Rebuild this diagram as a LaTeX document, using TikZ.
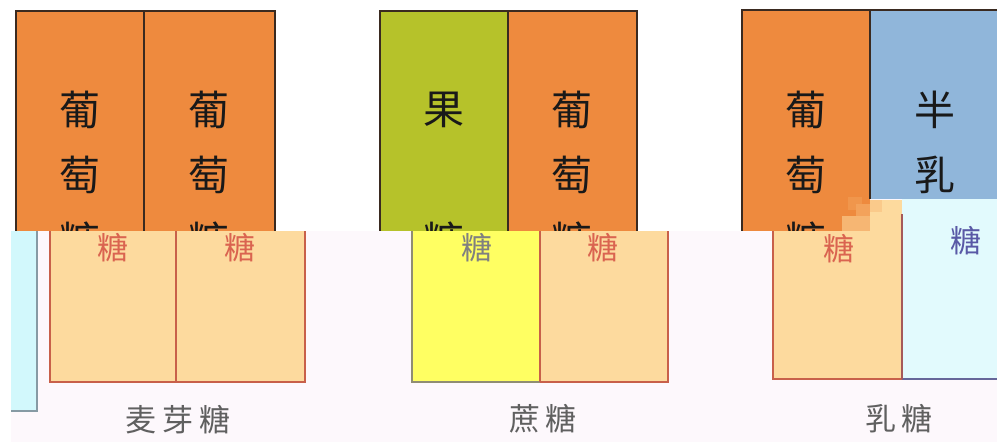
\documentclass[tikz,border=0pt]{standalone}
\usepackage{fontspec}
\newfontfamily\cjk{Noto Sans CJK SC}
\newfontfamily\cjklab[LetterSpace=18]{Noto Sans CJK SC}
\definecolor{topor}{HTML}{EE8A3E}
\definecolor{topgr}{HTML}{B6C22A}
\definecolor{topbl}{HTML}{90B6DA}
\definecolor{topln}{HTML}{3A2A20}
\definecolor{paleor}{HTML}{FDDA9E}
\definecolor{redln}{HTML}{C8604A}
\definecolor{redtx}{HTML}{DA6450}
\definecolor{yel}{HTML}{FFFF62}
\definecolor{cyn}{HTML}{D2F8FC}
\definecolor{cyn2}{HTML}{E2FAFD}
\definecolor{botbg}{HTML}{FDF8FC}
\definecolor{labgr}{HTML}{606060}
\begin{document}
\begin{tikzpicture}[x=1pt,y=-1pt,
  topline/.style={draw=topln,line width=1.6pt},
  botline/.style={draw=redln,line width=1.1pt},
  topchar/.style={font=\cjk\fontsize{41}{41}\selectfont,text=black!90,inner sep=0pt},
  botchar/.style={font=\cjk\fontsize{31}{31}\selectfont,inner sep=0pt},
  labchar/.style={font=\cjklab\fontsize{31}{31}\selectfont,text=labgr,inner sep=0pt}]
\useasboundingbox (0,0) rectangle (997,442);
\fill[white] (0,0) rectangle (997,442);
% ---------- top layer ----------
\fill[topor] (16,11) rectangle (275,240);
\fill[topor] (380,11) rectangle (637,240);
\fill[topgr] (380,11) rectangle (508,240);
\fill[topor] (742,10) rectangle (870,240);
\fill[topbl] (870,10) rectangle (997,240);
\draw[topline] (16,240) -- (16,11) -- (275,11) -- (275,240);
\draw[topline] (144,11) -- (144,240);
\draw[topline] (380,240) -- (380,11) -- (637,11) -- (637,240);
\draw[topline] (508,11) -- (508,240);
\draw[topline] (742,240) -- (742,10) -- (997,10);
\draw[topline] (870,10) -- (870,240);
\node[topchar] (a1) at (80,110) {葡};
\node[topchar] (a2) at (80,175) {萄};
\node[topchar] (a3) at (80,241) {糖};
\node[topchar] (b1) at (209,110) {葡};
\node[topchar] (b2) at (209,175) {萄};
\node[topchar] (b3) at (209,241) {糖};
\node[topchar] (c1) at (444,110) {果};
\node[topchar] (c3) at (444,241) {糖};
\node[topchar] (d1) at (572,110) {葡};
\node[topchar] (d2) at (572,175) {萄};
\node[topchar] (d3) at (572,241) {糖};
\node[topchar] (e1) at (806,110) {葡};
\node[topchar] (e2) at (806,175) {萄};
\node[topchar] (e3) at (806,241) {糖};
\node[topchar] (f1) at (935,110) {半};
\node[topchar] (f2) at (935,175) {乳};
% ---------- bottom layer ----------
\fill[botbg] (11,231) -- (842,231) -- (842,199) -- (997,199) -- (997,442) -- (11,442) -- cycle;
% mixed blocks at the seam
\fill[topor] (842,199) rectangle (870,232);
\fill[topor!85!paleor] (848,197) rectangle (862,210);
\fill[topor!70!paleor] (856,204) rectangle (870,216);
\fill[topor!45!paleor] (842,216) rectangle (870,232);
\fill[paleor!80!topor] (870,200) rectangle (882,212);
\fill[paleor] (870,212) rectangle (902,232);
\fill[paleor] (882,200) rectangle (902,212);
% cyan strip
\fill[cyn] (11,231) rectangle (37,411);
\draw[draw=gray!80!cyan,line width=1.1pt] (37,231) -- (37,411) -- (11,411);
% group 1
\fill[paleor] (50,231) rectangle (305,382);
\draw[botline] (50,231) -- (50,382) -- (305,382) -- (305,231);
\draw[botline] (176,231) -- (176,382);
% group 2
\fill[yel] (412,231) rectangle (540,382);
\fill[paleor] (540,231) rectangle (668,382);
\draw[draw=gray!80!olive,line width=1.1pt] (412,231) -- (412,382) -- (540,382);
\draw[botline] (540,382) -- (668,382) -- (668,231);
\draw[botline] (540,231) -- (540,382);
% group 3
\fill[paleor] (773,231) rectangle (902,379);
\fill[cyn2] (902,199) rectangle (997,379);
\draw[botline] (773,231) -- (773,379) -- (902,379);
\draw[draw=gray!80!blue,line width=1.1pt] (902,379) -- (997,379);
\draw[draw=gray!70!red,line width=1.1pt] (902,214) -- (902,379);
\begin{scope}
\clip (11,231) -- (842,231) -- (842,199) -- (997,199) -- (997,442) -- (11,442) -- cycle;
\node[botchar,text=redtx] (g1) at (113,248) {糖};
\node[botchar,text=redtx] (g2) at (240,248) {糖};
\node[botchar,text=gray] (h1) at (477,248) {糖};
\node[botchar,text=redtx] (h2) at (603,248) {糖};
\node[botchar,text=redtx] (i1) at (839,249) {糖};
\node[botchar,text=gray!70!blue] (i2) at (966,241) {糖};
\end{scope}
% labels
\node[labchar] (l1) at (178,420) {麦芽糖};
\node[labchar] (l2) at (543,419) {蔗糖};
\node[labchar] (l3) at (899,419) {乳糖};
\end{tikzpicture}
\end{document}
